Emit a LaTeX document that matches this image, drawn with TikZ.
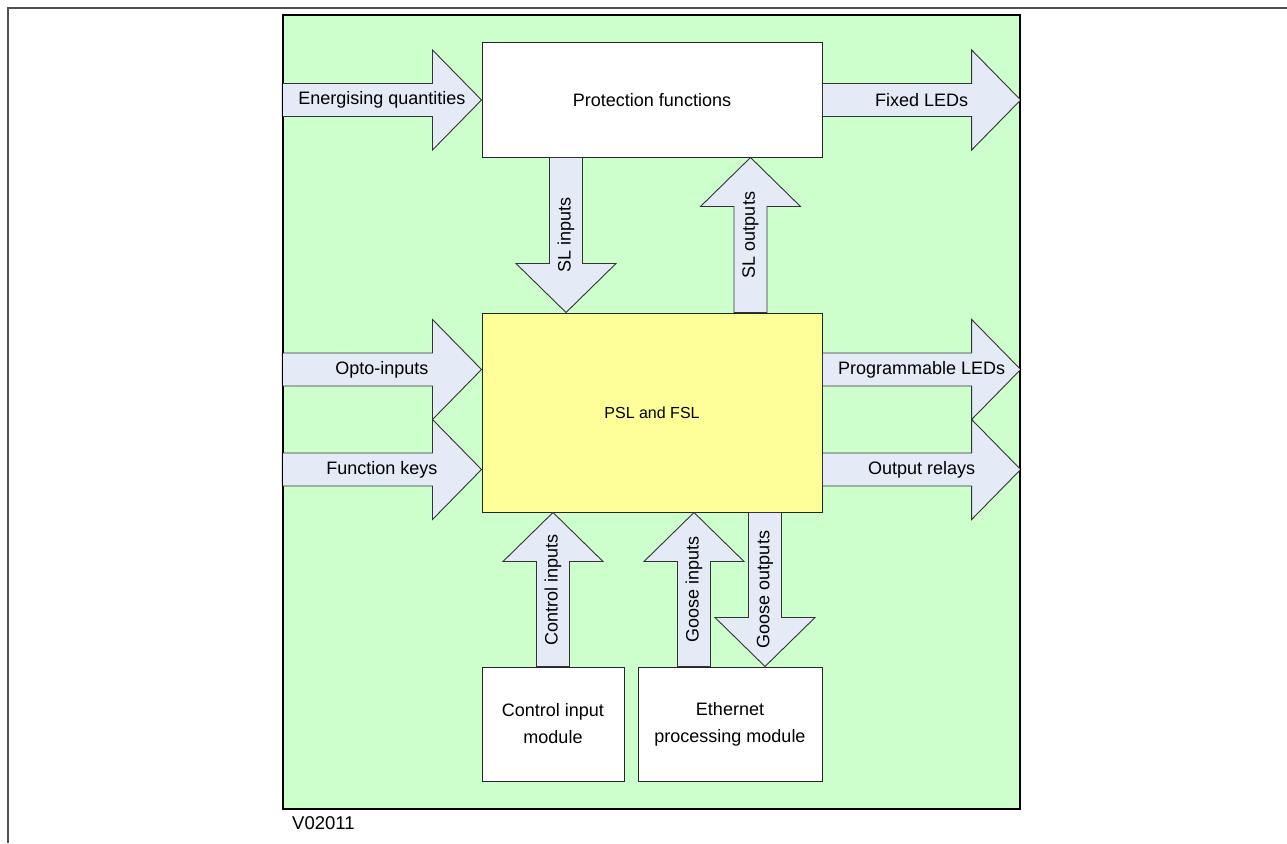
\documentclass[tikz,border=0pt]{standalone}
\usepackage{fontspec}
\setmainfont{Liberation Sans}
\usetikzlibrary{calc}
\definecolor{panelgreen}{HTML}{CCFFCC}
\definecolor{arrowfill}{HTML}{E4EAF6}
\definecolor{pslyellow}{HTML}{FFFF99}
\definecolor{framegray}{HTML}{505050}
% block arrow: #1 start, #2 tip, #3 name, #4 label style, #5 text
\newcommand\blockarr[5]{%
  \coordinate (#3h) at ($(#2)!49pt!(#1)$);
  \draw[barrow] ($(#1)!16.5pt!90:(#2)$) -- ($(#3h)!16.5pt!90:(#2)$)
     -- ($(#3h)!50pt!90:(#2)$) -- (#2) -- ($(#3h)!50pt!-90:(#2)$)
     -- ($(#3h)!16.5pt!-90:(#2)$) -- ($(#1)!16.5pt!-90:(#2)$) -- cycle;
  \node[#4] (#3lbl) at ($(#1)!0.5!(#2)$) {#5};
}
\begin{document}
\begin{tikzpicture}[x=1pt,y=-1pt,
  panelbox/.style={draw=black, line width=1.3pt, fill=panelgreen, inner sep=0pt},
  whitebox/.style={draw=black!85, line width=1pt, fill=white, inner sep=0pt,
    align=center, font=\fontsize{18}{27}\selectfont},
  pslbox/.style={draw=black!85, line width=1pt, fill=pslyellow, inner sep=0pt,
    font=\fontsize{16}{19}\selectfont},
  barrow/.style={draw=black!80, line width=0.9pt, fill=arrowfill, line join=miter},
  alabel/.style={font=\fontsize{18}{21}\selectfont, inner sep=0pt},
  valabel/.style={alabel, rotate=90},
  framestyle/.style={draw=framegray, line width=2.5pt},
]
\useasboundingbox (0,0) rectangle (1287,843);

% page frame
\coordinate (fbl) at (8,843);
\coordinate (ftl) at (8,8);
\coordinate (ftr) at (1287,8);
\draw[framestyle] (fbl) -- (ftl) -- (ftr);

% green panel
\node[panelbox, minimum width=737pt, minimum height=794pt] (panel) at (651.5,412) {};

% boxes
\node[whitebox, minimum width=340pt, minimum height=114pt] (prot) at (652,100) {Protection functions};
\node[pslbox, minimum width=340pt, minimum height=199pt] (psl) at (652,412.5) {PSL and FSL};
\node[whitebox, minimum width=142pt, minimum height=114pt] (ctrl) at (553,724) {Control input\\module};
\node[whitebox, minimum width=184pt, minimum height=114pt] (eth) at (730,724) {Ethernet\\processing module};

% helper coordinates
\coordinate (eqs) at (panel.west |- prot.west);
\coordinate (fle) at (panel.east |- prot.east);
\coordinate (slis) at ($(prot.south west)+(84.5,0)$);
\coordinate (slie) at ($(psl.north west)+(84.5,0)$);
\coordinate (slos) at ($(psl.north west)+(269,0)$);
\coordinate (sloe) at ($(prot.south west)+(269,0)$);
\coordinate (opte) at ($(psl.north west)+(0,57)$);
\coordinate (opts) at (panel.west |- opte);
\coordinate (fkye) at ($(psl.north west)+(0,157)$);
\coordinate (fkys) at (panel.west |- fkye);
\coordinate (pleds) at ($(psl.north east)+(0,57)$);
\coordinate (plede) at (panel.east |- pleds);
\coordinate (orls) at ($(psl.north east)+(0,157)$);
\coordinate (orle) at (panel.east |- orls);
\coordinate (cis) at (ctrl.north);
\coordinate (cie) at (ctrl.north |- psl.south);
\coordinate (gis) at ($(eth.north west)+(56.5,0)$);
\coordinate (gie) at (gis |- psl.south);
\coordinate (goe) at ($(eth.north west)+(127.5,0)$);
\coordinate (gos) at (goe |- psl.south);

% arrows
\blockarr{eqs}{prot.west}{aeq}{alabel}{Energising quantities}
\blockarr{prot.east}{fle}{afl}{alabel}{Fixed LEDs}
\blockarr{slis}{slie}{asli}{valabel}{SL inputs}
\blockarr{slos}{sloe}{aslo}{valabel}{SL outputs}
\blockarr{opts}{opte}{aopt}{alabel}{Opto-inputs}
\blockarr{fkys}{fkye}{afky}{alabel}{Function keys}
\blockarr{pleds}{plede}{apled}{alabel}{Programmable LEDs}
\blockarr{orls}{orle}{aorl}{alabel}{Output relays}
\blockarr{cis}{cie}{aci}{valabel}{Control inputs}
\blockarr{gis}{gie}{agi}{valabel}{Goose inputs}
\blockarr{gos}{goe}{ago}{valabel}{Goose outputs}

% panel outline on top
\draw[black, line width=1.3pt] (panel.north west) rectangle (panel.south east);

% figure code
\node[anchor=west, inner sep=0pt, font=\fontsize{18.5}{22}\selectfont] (code) at (292,823) {V02011};
\end{tikzpicture}
\end{document}
